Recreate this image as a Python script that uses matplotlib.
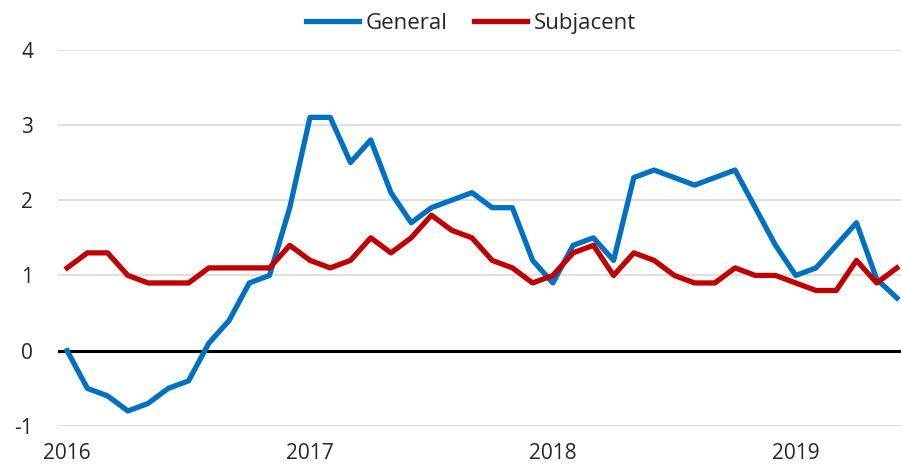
import matplotlib
matplotlib.use("Agg")
import matplotlib.pyplot as plt
import numpy as np

general = [0.0, -0.5, -0.6, -0.8, -0.7, -0.5, -0.4, 0.1, 0.4, 0.9, 1.0, 1.9,
           3.1, 3.1, 2.5, 2.8, 2.1, 1.7, 1.9, 2.0, 2.1, 1.9, 1.9, 1.2,
           0.9, 1.4, 1.5, 1.2, 2.3, 2.4, 2.3, 2.2, 2.3, 2.4, 1.9, 1.4,
           1.0, 1.1, 1.4, 1.7, 0.95, 0.7]
subjacent = [1.1, 1.3, 1.3, 1.0, 0.9, 0.9, 0.9, 1.1, 1.1, 1.1, 1.1, 1.4,
             1.2, 1.1, 1.2, 1.5, 1.3, 1.5, 1.8, 1.6, 1.5, 1.2, 1.1, 0.9,
             1.0, 1.3, 1.4, 1.0, 1.3, 1.2, 1.0, 0.9, 0.9, 1.1, 1.0, 1.0,
             0.9, 0.8, 0.8, 1.2, 0.9, 1.1]
year_labels = ["2016", "2017", "2018", "2019"]
year_positions = [0, 12, 24, 36]
y_ticks = [-1, 0, 1, 2, 3, 4]

plt.rcParams['font.family'] = ['Open Sans', 'DejaVu Sans']

fig = plt.figure(figsize=(9.01, 4.67), dpi=100)
ax = fig.add_axes([0.0644, 0.0878, 0.9356, 0.806])

x = np.arange(len(general))
ax.plot(x, general, color='#0070C0', lw=3.8, label='General', solid_joinstyle='round', zorder=3)
ax.plot(x, subjacent, color='#C00000', lw=3.8, label='Subjacent', solid_joinstyle='round', zorder=3)

ax.set_xlim(-0.45, 41.2)
ax.set_ylim(-1, 4)
ax.set_yticks(y_ticks)
ax.set_yticklabels([str(v) for v in y_ticks])
ax.set_xticks(year_positions)
ax.set_xticklabels(year_labels)
ax.tick_params(axis='both', length=0, labelsize=15, colors='#262626')
ax.tick_params(axis='y', pad=18)
ax.tick_params(axis='x', pad=12)

for v in y_ticks:
    if v != 0:
        ax.axhline(v, color='#d9d9d9', lw=1.2, zorder=1)
ax.axhline(0, color='black', lw=2.2, zorder=2)

for s in ax.spines.values():
    s.set_visible(False)

leg = ax.legend(loc='center', bbox_to_anchor=(0.49, 1.07), ncol=2, frameon=False,
                fontsize=16, handlelength=2.4, handletextpad=0.3, columnspacing=1.17,
                borderaxespad=0.0)
for t in leg.get_texts():
    t.set_color('#262626')

fig.savefig('out.png', dpi=100)
